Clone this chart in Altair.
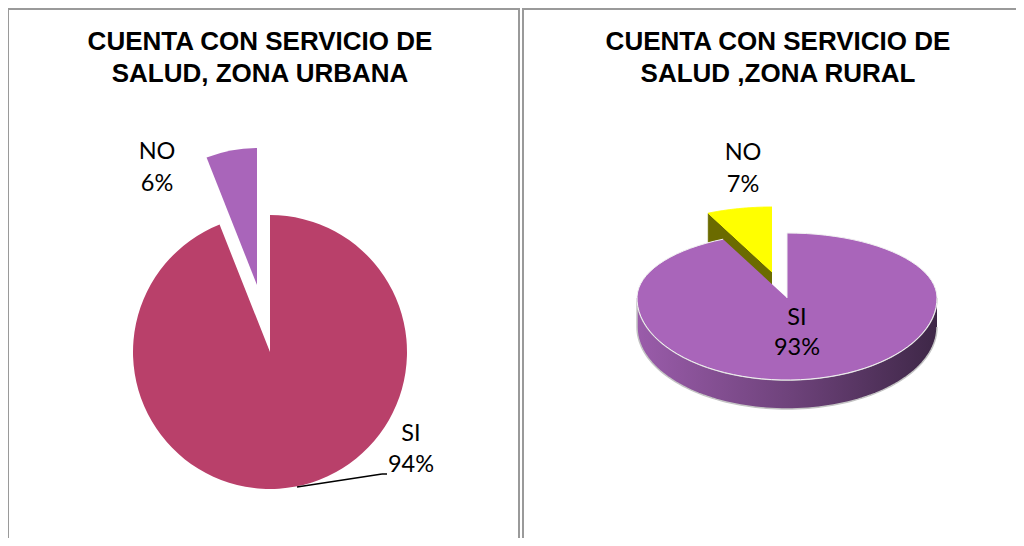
import altair as alt
import pandas as pd

# ---------------- data ----------------
urb_cats = ["SI", "NO"]
urb_vals = [94, 6]
rur_cats = ["SI", "NO"]
rur_vals = [93, 7]

title_urb = ["CUENTA CON SERVICIO DE", "SALUD, ZONA URBANA"]
title_rur = ["CUENTA CON SERVICIO DE", "SALUD ,ZONA RURAL"]


def frame(cats, vals):
    df = pd.DataFrame({"cat": cats, "val": vals})
    df["end"] = df["val"].cumsum()
    df["start"] = df["end"] - df["val"]
    df["pct"] = df["val"].astype(str) + "%"
    return df


urb = frame(urb_cats, urb_vals)
rur = frame(rur_cats, rur_vals)

# ---------------- styling ----------------
W, H = 1008, 530
XS = alt.Scale(domain=[0, W], range=[0, W], nice=False, zero=False)
YS = alt.Scale(domain=[0, H], range=[0, H], nice=False, zero=False)
THETA = alt.Scale(domain=[0, 100], range=[0, 6.283185307179586])

RED = "#B9406A"
PURPLE = "#A965BA"
YELLOW = "#FFFF00"
OLIVE = "#6B6B00"
BORDER = "#9a9a9a"
TITLE_FONT = "Liberation Sans"
LABEL_FONT = "Lato"
LABEL_SIZE = 23.5

one = pd.DataFrame({"k": [0]})
layers = []

# panel borders
for xv in (0, 511, 515):
    layers.append(alt.Chart(one).mark_rule(color=BORDER, strokeWidth=2).encode(
        x=alt.value(xv), y=alt.value(0), y2=alt.value(H)))
layers.append(alt.Chart(one).mark_rule(color=BORDER, strokeWidth=2).encode(
    x=alt.value(0), x2=alt.value(511), y=alt.value(1)))
layers.append(alt.Chart(one).mark_rule(color=BORDER, strokeWidth=2).encode(
    x=alt.value(515), x2=alt.value(W), y=alt.value(1)))

# titles
for lines, cx in ((title_urb, 252), (title_rur, 770)):
    for i, line in enumerate(lines):
        layers.append(alt.Chart(pd.DataFrame({"t": [line]})).mark_text(
            font=TITLE_FONT, fontSize=26, fontWeight="bold", color="black",
            align="center", baseline="alphabetic").encode(
            text="t:N", x=alt.value(cx), y=alt.value(42 + 32 * i)))


# ---------------- left: 2D pie ----------------
def arc_layer(df, cat, cx, cy, r, color):
    return alt.Chart(df).transform_filter(alt.datum.cat == cat).mark_arc(
        radius=r, color=color, stroke=None).encode(
        theta=alt.Theta("start:Q", scale=THETA), theta2="end:Q",
        x=alt.value(cx), y=alt.value(cy))


PCX, PCY, PR = 262, 344, 137
layers.append(arc_layer(urb, "SI", PCX, PCY, PR, RED))
layers.append(arc_layer(urb, "NO", PCX - 13, PCY - 67, PR, PURPLE))


def label(df, cat, x, y1, y2):
    out = []
    for field, yy in (("cat", y1), ("pct", y2)):
        out.append(alt.Chart(df).transform_filter(alt.datum.cat == cat).mark_text(
            font=LABEL_FONT, fontSize=LABEL_SIZE, color="black", align="center",
            baseline="middle").encode(text=f"{field}:N", x=alt.value(x), y=alt.value(yy)))
    return out


layers += label(urb, "NO", 149, 144, 176)
layers += label(urb, "SI", 403, 426, 457)
# leader line for SI
layers.append(alt.Chart(urb).transform_filter(alt.datum.cat == "SI").mark_rule(
    color="black", strokeWidth=1.5).encode(
    x=alt.value(289), y=alt.value(479), x2=alt.value(374), y2=alt.value(466)))
layers.append(alt.Chart(urb).transform_filter(alt.datum.cat == "SI").mark_rule(
    color="black", strokeWidth=1.5).encode(
    x=alt.value(374), y=alt.value(466), x2=alt.value(379), y2=alt.value(466)))

# ---------------- right: 3D pie ----------------
N = 90
CX3, CY3, RX, RYT, RYB, DEPTH = 779, 290, 150, 65, 82, 29
NO_DX, NO_DY = -15, -26


def ry_expr(a):
    return f"(cos({a}) > 0 ? {RYT} : {RYB})*cos({a})"


def enc():
    return dict(x=alt.X("px:Q", scale=XS, axis=None),
                y=alt.Y("py:Q", scale=YS, axis=None),
                order=alt.Order("steps:Q"))


def top_face(df, cat, dx, dy, color, stroke):
    cx, cy = CX3 + dx, CY3 + dy
    return (alt.Chart(df).transform_filter(alt.datum.cat == cat)
            .transform_calculate(steps=f"sequence(0, {N + 2})")
            .transform_flatten(["steps"])
            .transform_calculate(a=f"2*PI*(datum.start + (datum.end - datum.start)*(datum.steps - 1)/{N})/100")
            .transform_calculate(
                px=f"datum.steps == 0 ? {cx} : {cx} + {RX}*sin(datum.a)",
                py=f"datum.steps == 0 ? {cy} : {cy} - {ry_expr('datum.a')}")
            .mark_line(fill=color, stroke=stroke, strokeWidth=1, interpolate="linear")
            .encode(**enc()))


def side_band(df, cat, fill):
    return (alt.Chart(df).transform_filter(alt.datum.cat == cat)
            .transform_calculate(a0="max(datum.start*3.6, 90)", a1="min(datum.end*3.6, 270)")
            .transform_filter("datum.a1 > datum.a0")
            .transform_calculate(steps=f"sequence(0, {2 * N + 2})")
            .transform_flatten(["steps"])
            .transform_calculate(
                deg=f"datum.steps <= {N} ? datum.a0 + (datum.a1 - datum.a0)*datum.steps/{N} : datum.a1 - (datum.a1 - datum.a0)*(datum.steps - {N + 1})/{N}")
            .transform_calculate(a="datum.deg*PI/180")
            .transform_calculate(
                px=f"{CX3} + {RX}*sin(datum.a)",
                py=f"{CY3} - {ry_expr('datum.a')} + (datum.steps > {N} ? {DEPTH} : 0)")
            .mark_line(fill=fill, stroke="#c4c4c4", strokeWidth=1.5, interpolate="linear")
            .encode(**enc()))


def cut_face(df, cat, dx, dy, color):
    cx, cy = CX3 + dx, CY3 + dy
    rim = "(datum.steps == 1 || datum.steps == 2)"
    return (alt.Chart(df).transform_filter(alt.datum.cat == cat)
            .transform_calculate(steps="sequence(0, 4)")
            .transform_flatten(["steps"])
            .transform_calculate(a="2*PI*datum.start/100")
            .transform_calculate(
                px=f"{rim} ? {cx} + {RX}*sin(datum.a) : {cx}",
                py=f"({rim} ? {cy} - {ry_expr('datum.a')} : {cy}) + (datum.steps >= 2 ? {DEPTH} : 0)")
            .mark_line(fill=color, stroke=color, strokeWidth=0.5, interpolate="linear")
            .encode(**enc()))


side_grad = alt.Gradient(
    gradient="linear", x1=0, x2=1, y1=0, y2=0,
    stops=[alt.GradientStop(color="#9A5CAA", offset=0),
           alt.GradientStop(color="#6F437C", offset=0.5),
           alt.GradientStop(color="#3E2747", offset=1)])

layers.append(cut_face(rur, "NO", NO_DX, NO_DY, OLIVE))
layers.append(top_face(rur, "NO", NO_DX, NO_DY, YELLOW, YELLOW))
layers.append(side_band(rur, "SI", side_grad))
layers.append(top_face(rur, "SI", 0, 0, PURPLE, "#f2f2f2"))

layers += label(rur, "NO", 735, 145, 177)
layers += label(rur, "SI", 789, 310, 340)

chart = alt.layer(*layers).properties(
    width=W, height=H,
    autosize=alt.AutoSizeParams(type="none"),
    padding=0,
).configure_view(stroke=None)

chart.save("out.html", embed_options={"renderer": "svg", "actions": False})
